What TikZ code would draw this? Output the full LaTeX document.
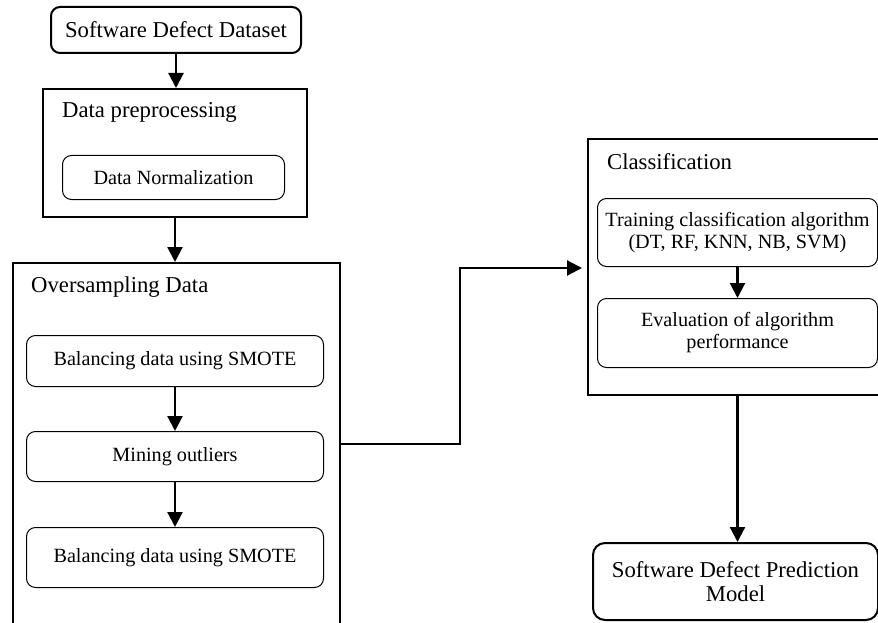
\documentclass[tikz,border=0pt]{standalone}
\usepackage{fontspec}
\setmainfont{Liberation Serif}
\usetikzlibrary{arrows.meta}
\begin{document}
\begin{tikzpicture}[x=1pt,y=-1pt,
  bigtext/.style={font=\fontsize{22.7}{24}\selectfont},
  smalltext/.style={font=\fontsize{20.2}{22}\selectfont},
  frame/.style={draw, line width=2pt, inner sep=0pt, anchor=north west},
  roundbox/.style={draw, line width=1pt, rounded corners=9pt, inner sep=0pt,
    anchor=north west, align=center, smalltext},
  label/.style={anchor=west, inner sep=0pt, bigtext},
  arr/.style={-{Triangle[width=15pt,length=15pt]}, line width=2.2pt}]
\useasboundingbox (0,0) rectangle (878,623);
\clip (0,0) rectangle (878,623);

% input dataset
\node[frame, rounded corners=9pt, minimum width=250pt, minimum height=46pt, bigtext]
  (sdd) at (50,6) {Software Defect Dataset};

% preprocessing stage
\node[frame, minimum width=264pt, minimum height=128pt] (pre) at (42,88) {};
\node[label] (prelbl) at (62,112) {Data preprocessing};
\node[roundbox, minimum width=222pt, minimum height=44pt] (norm) at (62,155) {Data Normalization};

% oversampling stage
\node[frame, line width=1.5pt, minimum width=327pt, minimum height=420pt] (over) at (12,262) {};
\node[label] (overlbl) at (31,287) {Oversampling Data};
\node[roundbox, minimum width=297pt, minimum height=51pt] (bal1) at (26,335) {Balancing data using SMOTE};
\node[roundbox, minimum width=297pt, minimum height=50pt] (mine) at (26,431) {Mining outliers};
\node[roundbox, minimum width=297pt, minimum height=60pt] (bal2) at (26,527) {Balancing data using SMOTE};

% classification stage
\node[frame, minimum width=330pt, minimum height=256pt] (cls) at (587,138) {};
\node[label] (clslbl) at (607,162) {Classification};
\node[roundbox, minimum width=280pt, minimum height=68pt] (train) at (597,198)
  {Training classification algorithm\\(DT, RF, KNN, NB, SVM)};
\node[roundbox, minimum width=280pt, minimum height=69pt] (eval) at (597,298)
  {Evaluation of algorithm\\performance};

% resulting model
\node[frame, rounded corners=12pt, minimum width=285pt, minimum height=77pt, align=center, bigtext]
  (model) at (592,542) {Software Defect Prediction\\Model};

% connectors
\draw[arr] (sdd.south) -- (sdd.south |- pre.north);
\draw[arr] (pre.south) -- (pre.south |- over.north);
\draw[arr] (bal1.south) -- (mine.north);
\draw[arr] (mine.south) -- (bal2.north);
\coordinate (turn) at (460,444);
\coordinate (entry) at (587,268);
\draw[arr, shorten >=5pt] (over.east |- turn) -- (turn) |- (cls.west |- entry);
\draw[arr] (train.south) -- (eval.north);
\coordinate (drop) at (cls.south -| train.south);
\draw[arr] (drop) -- (drop |- model.north);
\end{tikzpicture}
\end{document}
